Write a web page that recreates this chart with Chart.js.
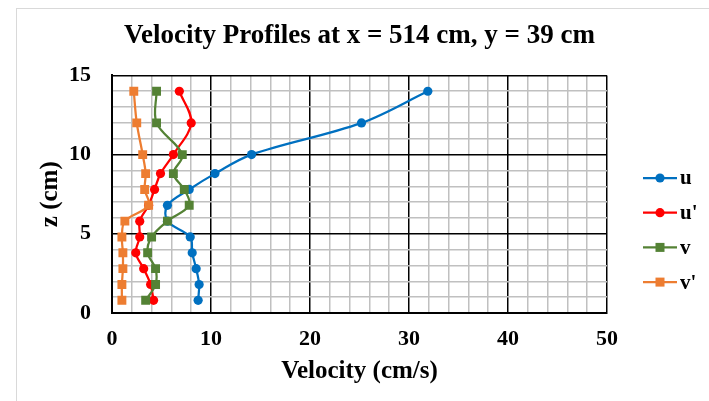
<!DOCTYPE html>
<html>
<head>
<meta charset="utf-8">
<script src="https://cdn.jsdelivr.net/npm/chart.js@4"></script>
<style>
  html, body { margin: 0; padding: 0; background: #fff; }
  #wrap { width: 709px; height: 401px; }
</style>
</head>
<body>
<div id="wrap"><canvas id="profileChart" width="709" height="401"></canvas></div>
<script>
// Depth of each measuring point (cm)
const zLevels = [0.8, 1.8, 2.8, 3.8, 4.8, 5.8, 6.8, 7.8, 8.8, 10, 12, 14];

// Velocity components (cm/s)
const uValues      = [8.7, 8.8, 8.5, 8.1, 7.9, 5.6, 5.6, 7.8, 10.4, 14.1, 25.2, 31.9];
const uPrimeValues = [4.2, 3.9, 3.2, 2.4, 2.8, 2.8, 3.7, 4.3, 4.9, 6.2, 8.0, 6.8];
const vValues      = [3.4, 4.4, 4.4, 3.6, 4.0, 5.6, 7.8, 7.3, 6.2, 7.1, 4.5, 4.5];
const vPrimeValues = [1.0, 1.0, 1.1, 1.1, 1.0, 1.3, 3.7, 3.3, 3.4, 3.1, 2.5, 2.2];

const seriesNames  = ["u", "u'", "v", "v'"];
const seriesColors = ["#0070C0", "#FF0000", "#548235", "#ED7D31"];
const seriesMarkers = ["circle", "circle", "rect", "rect"];

const serif = "'Liberation Serif', 'Times New Roman', serif";

function toPoints(values) {
    return values.map((v, i) => ({ x: v, y: zLevels[i] }));
}

const allValues = [uValues, uPrimeValues, vValues, vPrimeValues];

const datasets = allValues.map((vals, i) => ({
    label: seriesNames[i],
    data: toPoints(vals),
    showLine: true,
    borderColor: seriesColors[i],
    backgroundColor: seriesColors[i],
    borderWidth: 2.25,
    tension: 0.35,
    pointStyle: seriesMarkers[i],
    pointRadius: seriesMarkers[i] === "rect" ? 6.3 : 4.6,
    pointBorderWidth: 0,
    order: 4 - i // later series drawn on top
}));

// Excel-like legend: short line with marker in the middle
const sideLegend = {
    id: "sideLegend",
    afterDraw(chart) {
        const ctx = chart.ctx;
        ctx.save();
        seriesNames.forEach((name, i) => {
            const y = 178 + i * 34.7;
            ctx.strokeStyle = seriesColors[i];
            ctx.fillStyle = seriesColors[i];
            ctx.lineWidth = 2.25;
            ctx.beginPath();
            ctx.moveTo(643, y);
            ctx.lineTo(677, y);
            ctx.stroke();
            if (seriesMarkers[i] === "rect") {
                ctx.fillRect(660 - 4.5, y - 4.5, 9, 9);
            } else {
                ctx.beginPath();
                ctx.arc(660, y, 4.6, 0, Math.PI * 2);
                ctx.fill();
            }
            ctx.fillStyle = "#000";
            ctx.font = "bold 21px " + serif;
            ctx.textBaseline = "middle";
            ctx.fillText(name, 680, y + 1);
        });
        ctx.restore();
    }
};

// thin grey frame around the whole chart
const outerFrame = {
    id: "outerFrame",
    beforeDraw(chart) {
        const ctx = chart.ctx;
        ctx.save();
        ctx.fillStyle = "#fff";
        ctx.fillRect(0, 0, chart.width, chart.height);
        ctx.strokeStyle = "#d9d9d9";
        ctx.lineWidth = 1;
        ctx.strokeRect(16.5, 8.5, 760, 460);
        ctx.restore();
    }
};

function gridColor(step) {
    return (c) => (c.tick && c.tick.value % step === 0) ? "#000" : "#c0c0c0";
}

const ctx = document.getElementById("profileChart").getContext("2d");
const profileChart = new Chart(ctx, {
    type: "scatter",
    data: { datasets: datasets },
    options: {
        responsive: false,
        animation: false,
        layout: { padding: { left: 36, right: 102, top: 0, bottom: 0 } },
        plugins: {
            legend: { display: false },
            tooltip: { enabled: false },
            title: {
                display: true,
                fullSize: false,
                text: "Velocity Profiles at x = 514 cm, y = 39 cm",
                color: "#000",
                font: { family: serif, size: 27, weight: "bold" },
                padding: { top: 20, bottom: 23 }
            }
        },
        scales: {
            x: {
                type: "linear",
                min: 0,
                max: 50,
                afterFit: (scale) => { scale.height = 88; },
                ticks: {
                    stepSize: 2,
                    autoSkip: false,
                    maxRotation: 0,
                    padding: 13,
                    color: "#000",
                    font: { family: serif, size: 22, weight: "bold" },
                    callback: (v) => (v % 10 === 0 ? v : "")
                },
                grid: { color: gridColor(10), lineWidth: 1.5, drawTicks: false },
                border: { display: true, color: "#000", width: 2 },
                title: {
                    display: true,
                    text: "Velocity (cm/s)",
                    color: "#000",
                    font: { family: serif, size: 25, weight: "bold" },
                    padding: { top: 4, bottom: 14 }
                }
            },
            y: {
                type: "linear",
                min: 0,
                max: 15,
                afterFit: (scale) => { scale.width = 76; },
                ticks: {
                    stepSize: 1,
                    autoSkip: false,
                    padding: 21,
                    color: "#000",
                    font: { family: serif, size: 22, weight: "bold" },
                    callback: (v) => (v % 5 === 0 ? v : "")
                },
                grid: { color: gridColor(5), lineWidth: 1.5, drawTicks: false },
                border: { display: true, color: "#000", width: 2 },
                title: {
                    display: true,
                    text: "z (cm)",
                    color: "#000",
                    font: { family: serif, size: 25, weight: "bold" },
                    padding: { top: 0, bottom: 4 }
                }
            }
        }
    },
    plugins: [outerFrame, sideLegend]
});
</script>
</body>
</html>
